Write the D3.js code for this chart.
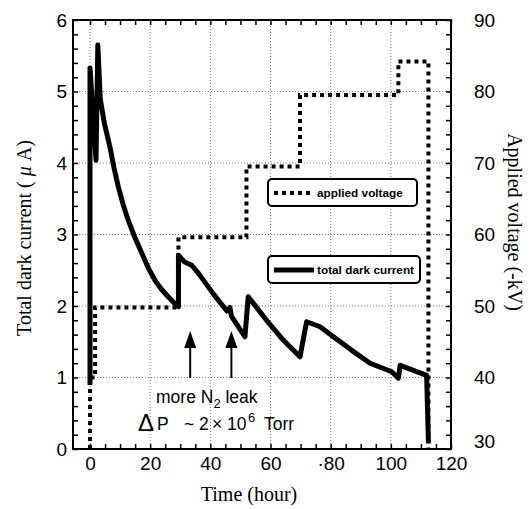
<!DOCTYPE html>
<html><head><meta charset="utf-8">
<script src="https://cdn.jsdelivr.net/npm/d3@7"></script>
<style>body{margin:0;background:#fff}svg{display:block}</style>
</head><body><svg id="c" width="530" height="509"></svg>
<script>
// ---- data ----
const currentHours = [0, 0, 2.0, 2.6, 3.4, 4.8, 6.6, 8.0, 9.4, 11.0, 12.7, 15.0, 17.2, 19.4, 21.6, 23.8, 26.0, 27.8, 29.4, 29.4, 31.3, 33.8, 36.0, 41.0, 45.5, 46.5, 47.0, 51.5, 52.6, 58.7, 64.3, 69.8, 72.0, 76.5, 80.9, 87.0, 93.1, 100.3, 102.5, 103.1, 111.9, 112.5];
const currentValues = [0.9, 5.33, 4.04, 5.65, 4.9, 4.55, 4.23, 3.93, 3.67, 3.42, 3.20, 2.95, 2.74, 2.53, 2.36, 2.23, 2.13, 2.05, 1.99, 2.71, 2.62, 2.57, 2.46, 2.17, 1.93, 1.98, 1.86, 1.57, 2.13, 1.80, 1.52, 1.29, 1.78, 1.71, 1.57, 1.38, 1.20, 1.08, 0.99, 1.17, 1.03, 0.08];
const voltageHours = [0, 0, 1.7, 1.7, 29.4, 29.4, 52.0, 52.0, 69.8, 69.8, 102.5, 102.5, 112.5, 112.5];
const voltageValues = [30, 40, 40, 49.8, 49.8, 59.6, 59.6, 69.5, 69.5, 79.5, 79.5, 84.2, 84.2, 30];
const xTicks = [0, 20, 40, 60, 80, 100, 120];
const xTickLabels = ["0", "20", "40", "60", "·80", "100", "120"];
const yLeftTicks = [0, 1, 2, 3, 4, 5, 6];
const yRightTicks = [30, 40, 50, 60, 70, 80, 90];
const arrowHours = [33.3, 47.0];
const legendLabels = ["applied voltage", "total dark current"];

// ---- scales ----
const svg = d3.select("#c");
const L = 73, R = 451, T = 20, B = 449;
const x = d3.scaleLinear().domain([-5.65, 120]).range([L, R]);
const yL = d3.scaleLinear().domain([0, 6]).range([B, T]);
const yR = d3.scaleLinear().domain([30, 90]).range([B, T]);
const sans = "'Liberation Sans', Arial, Helvetica, sans-serif";
const serif = "'Liberation Serif', 'Times New Roman', serif";

// grid
const grid = svg.append("g").attr("stroke", "#555").attr("stroke-width", 0.8).attr("stroke-dasharray", "1,2");
[0, 20, 40, 60, 80, 100].forEach(h => grid.append("line").attr("x1", x(h)).attr("x2", x(h)).attr("y1", T).attr("y2", B));
[1, 2, 3, 4, 5].forEach(v => grid.append("line").attr("x1", L).attr("x2", R).attr("y1", yL(v)).attr("y2", yL(v)));

// axes (ticks pointing inward)
function styleAxis(g) {
  g.select(".domain").remove();
  g.selectAll("line").attr("stroke", "#000").attr("stroke-width", 1.5);
}
const minorX = d3.range(0, 120.1, 5);
svg.append("g").attr("transform", `translate(0,${B})`)
  .call(d3.axisBottom(x).tickValues(minorX).tickSize(-5).tickFormat("")).call(styleAxis);
svg.append("g").attr("transform", `translate(0,${T})`)
  .call(d3.axisTop(x).tickValues(minorX).tickSize(-5).tickFormat("")).call(styleAxis);
svg.append("g").attr("transform", `translate(${L},0)`)
  .call(d3.axisLeft(yL).tickValues(d3.range(0, 6.01, 0.2)).tickSize(-5).tickFormat("")).call(styleAxis);
svg.append("g").attr("transform", `translate(${R},0)`)
  .call(d3.axisRight(yR).tickValues(d3.range(30, 90.1, 2)).tickSize(-5).tickFormat("")).call(styleAxis);

// tick labels
const xl = svg.append("g").attr("transform", `translate(0,${B})`)
  .call(d3.axisBottom(x).tickValues(xTicks).tickSize(0).tickPadding(8).tickFormat((d, i) => xTickLabels[i]));
xl.select(".domain").remove();
xl.selectAll("text").attr("font-family", sans).attr("font-size", 19).attr("fill", "#000");
const yl = svg.append("g").attr("transform", `translate(${L},0)`)
  .call(d3.axisLeft(yL).tickValues(yLeftTicks).tickSize(0).tickPadding(6).tickFormat(d3.format("d")));
yl.select(".domain").remove();
yl.selectAll("text").attr("font-family", sans).attr("font-size", 19).attr("fill", "#000");
const yr = svg.append("g").attr("transform", `translate(${R},0)`)
  .call(d3.axisRight(yR).tickValues(yRightTicks).tickSize(0).tickPadding(23).tickFormat(d3.format("d")));
yr.select(".domain").remove();
yr.selectAll("text").attr("font-family", sans).attr("font-size", 19).attr("fill", "#000")
  .attr("dy", d => d === 30 ? "-0.1em" : "0.32em");

// frame
svg.append("rect").attr("x", L).attr("y", T).attr("width", R - L).attr("height", B - T)
  .attr("fill", "none").attr("stroke", "#000").attr("stroke-width", 2);

// voltage (dotted)
const vline = d3.line().x((d, i) => x(voltageHours[i])).y(d => yR(d));
svg.append("path").attr("d", vline(voltageValues)).attr("fill", "none").attr("stroke", "#000")
  .attr("stroke-width", 4).attr("stroke-dasharray", "4,4");

// current (thick)
const cline = d3.line().x((d, i) => x(currentHours[i])).y(d => yL(d));
svg.append("path").attr("d", cline(currentValues)).attr("fill", "none").attr("stroke", "#000")
  .attr("stroke-width", 5).attr("stroke-linejoin", "round");

// legends
function legend(y0, label, dotted) {
  const g = svg.append("g");
  g.append("rect").attr("x", 268).attr("y", y0).attr("width", dotted ? 149 : 152).attr("height", 27)
    .attr("rx", 4).attr("fill", "#fff").attr("stroke", "#000").attr("stroke-width", 2);
  g.append("line").attr("x1", 274).attr("x2", 314).attr("y1", y0 + 14).attr("y2", y0 + 14)
    .attr("stroke", "#000").attr("stroke-width", dotted ? 4 : 5).attr("stroke-dasharray", dotted ? "4,4" : null);
  g.append("text").attr("x", 317).attr("y", y0 + 18).text(label)
    .attr("font-family", sans).attr("font-weight", "bold").attr("font-size", 11.8);
}
legend(179, legendLabels[0], true);
legend(256, legendLabels[1], false);

// arrows
arrowHours.forEach(h => {
  const ax = x(h);
  svg.append("line").attr("x1", ax).attr("x2", ax).attr("y1", 378).attr("y2", 340).attr("stroke", "#000").attr("stroke-width", 2);
  svg.append("path").attr("d", `M${ax},${331} L${ax - 6},${348} L${ax + 6},${348} Z`).attr("fill", "#000");
});

// annotation
const t1 = svg.append("text").attr("x", 156).attr("y", 403).attr("font-family", sans).attr("font-size", 17.5);
t1.append("tspan").text("more N");
t1.append("tspan").attr("dy", 5).attr("font-size", 13).text("2");
t1.append("tspan").attr("dy", -5).text(" leak");
const t2 = svg.append("g").attr("font-family", sans).attr("font-size", 17.5);
t2.append("text").attr("x", 138).attr("y", 431).attr("font-size", 24).text("Δ");
[["P", 157], ["~", 184], ["2", 199], ["×", 212], ["10", 227]].forEach(([s, px]) =>
  t2.append("text").attr("x", px).attr("y", 430).text(s));
t2.append("text").attr("x", 248).attr("y", 422).attr("font-size", 13).text("6");
t2.append("text").attr("x", 264).attr("y", 430).text("Torr");

// axis titles
const lt = svg.append("text").attr("transform", "translate(31,238) rotate(-90)").attr("text-anchor", "middle")
  .attr("font-family", serif).attr("font-size", 20);
lt.append("tspan").text("Total dark current ( ");
lt.append("tspan").attr("font-style", "italic").text("μ");
lt.append("tspan").text(" A)");
svg.append("text").attr("transform", "translate(508,222) rotate(90)").attr("text-anchor", "middle")
  .attr("font-family", serif).attr("font-size", 20).text("Applied voltage (-kV)");
svg.append("text").attr("x", 249).attr("y", 501).attr("text-anchor", "middle")
  .attr("font-family", serif).attr("font-size", 20).text("Time (hour)");
</script></body></html>
